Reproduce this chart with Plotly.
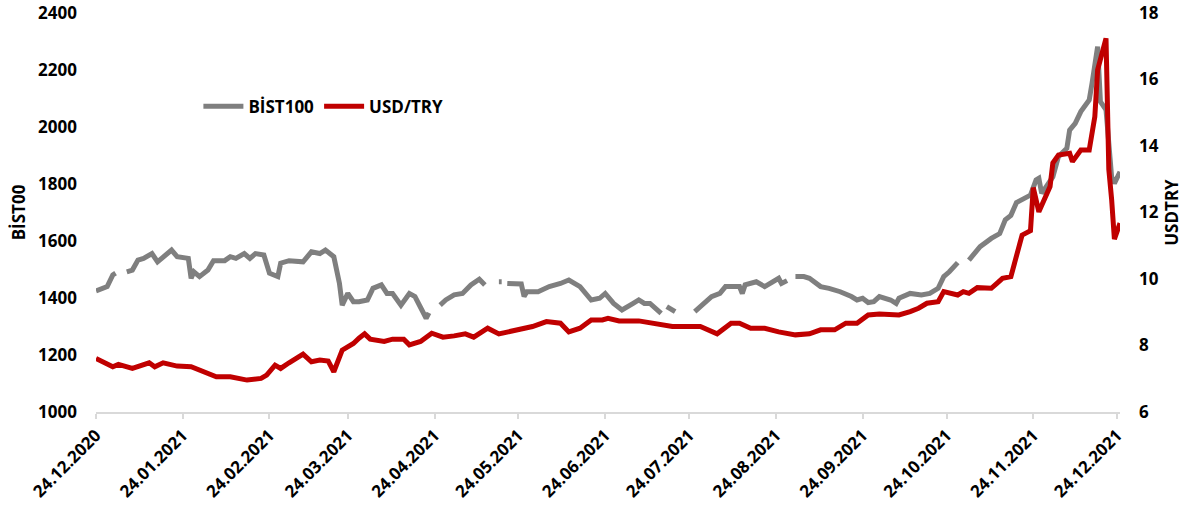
import plotly.graph_objects as go

bist_dates = ["2020-12-24","2020-12-28","2020-12-30","2020-12-31","2021-01-01","2021-01-04","2021-01-06","2021-01-08","2021-01-10","2021-01-13",
"2021-01-15","2021-01-20","2021-01-22","2021-01-26","2021-01-27","2021-01-28","2021-01-30","2021-02-02","2021-02-04","2021-02-08",
"2021-02-10","2021-02-12","2021-02-15","2021-02-17","2021-02-19","2021-02-22","2021-02-24","2021-02-27","2021-02-28","2021-03-03",
"2021-03-08","2021-03-11","2021-03-14","2021-03-16","2021-03-19","2021-03-21","2021-03-22","2021-03-24","2021-03-26","2021-03-28",
"2021-03-31","2021-04-02","2021-04-05","2021-04-07","2021-04-09","2021-04-12","2021-04-15","2021-04-17","2021-04-19","2021-04-21",
"2021-04-22","2021-04-23","2021-04-26","2021-04-28","2021-05-01","2021-05-04","2021-05-07","2021-05-10","2021-05-12","2021-05-13",
"2021-05-17","2021-05-18","2021-05-19","2021-05-20","2021-05-25","2021-05-26","2021-05-27","2021-05-31","2021-06-04","2021-06-08",
"2021-06-11","2021-06-15","2021-06-19","2021-06-22","2021-06-24","2021-06-27","2021-06-30","2021-07-04","2021-07-06","2021-07-08",
"2021-07-10","2021-07-14","2021-07-15","2021-07-16","2021-07-19","2021-07-20","2021-07-26","2021-07-29","2021-08-01","2021-08-04",
"2021-08-06","2021-08-11","2021-08-12","2021-08-13","2021-08-17","2021-08-20","2021-08-23","2021-08-25","2021-08-26","2021-08-28",
"2021-08-30","2021-08-31","2021-09-03","2021-09-05","2021-09-09","2021-09-12","2021-09-16","2021-09-20","2021-09-22","2021-09-24",
"2021-09-26","2021-09-28","2021-09-30","2021-10-04","2021-10-06","2021-10-07","2021-10-11","2021-10-15","2021-10-18","2021-10-21",
"2021-10-23","2021-10-25","2021-10-27","2021-10-28","2021-10-29","2021-11-01","2021-11-03","2021-11-05","2021-11-09","2021-11-12",
"2021-11-14","2021-11-16","2021-11-18","2021-11-20","2021-11-23","2021-11-25","2021-11-26","2021-11-27","2021-12-01","2021-12-03",
"2021-12-06","2021-12-07","2021-12-09","2021-12-11","2021-12-14","2021-12-15","2021-12-17","2021-12-18","2021-12-20","2021-12-22",
"2021-12-23","2021-12-25"]
bist_values = [1425,1440,1481,1487,None,1492,1498,1533,1539,1556,
1527,1568,1545,1539,1469,1492,1475,1498,1531,1531,
1545,1539,1556,1539,1556,1551,1487,1475,1522,1531,
1527,1562,1556,1568,1545,1452,1375,1416,1387,1387,
1393,1434,1446,1416,1416,1375,1416,1405,1364,1329,
1348,None,1375,1393,1411,1416,1446,1466,1446,None,
1457,1457,None,1451,1449,1405,1422,1422,1440,1451,
1463,1440,1393,1399,1416,1381,1358,1381,1393,1381,
1381,1346,None,1370,1352,None,1352,1381,1405,1416,
1440,1440,1416,1446,1457,1440,1457,1469,1451,1461,
None,1475,1475,1469,1440,1434,1422,1405,1393,1399,
1384,1387,1405,1393,1381,1399,1416,1411,1416,1434,
1475,1492,1516,1524,None,1533,1556,1580,1609,1626,
1674,1690,1735,1744,1761,1814,1820,1767,1825,1896,
1925,1989,2013,2054,2095,2153,2282,2089,2060,1826,
1802,1843]

usd_dates = ["2020-12-24","2020-12-30","2021-01-01","2021-01-06","2021-01-12","2021-01-14","2021-01-17","2021-01-22","2021-01-27","2021-01-31",
"2021-02-05","2021-02-10","2021-02-16","2021-02-21","2021-02-23","2021-02-26","2021-02-28","2021-03-03","2021-03-08","2021-03-11",
"2021-03-14","2021-03-17","2021-03-19","2021-03-22","2021-03-26","2021-03-28","2021-03-30","2021-04-01","2021-04-06","2021-04-09",
"2021-04-13","2021-04-15","2021-04-19","2021-04-23","2021-04-27","2021-05-01","2021-05-05","2021-05-08","2021-05-13","2021-05-17",
"2021-05-22","2021-05-27","2021-05-29","2021-06-03","2021-06-08","2021-06-11","2021-06-15","2021-06-19","2021-06-23","2021-06-25",
"2021-06-29","2021-07-06","2021-07-14","2021-07-18","2021-07-28","2021-08-03","2021-08-08","2021-08-11","2021-08-15","2021-08-20",
"2021-08-25","2021-08-31","2021-09-05","2021-09-09","2021-09-14","2021-09-18","2021-09-22","2021-09-26","2021-09-30","2021-10-07",
"2021-10-11","2021-10-14","2021-10-17","2021-10-21","2021-10-23","2021-10-28","2021-10-30","2021-11-01","2021-11-04","2021-11-09",
"2021-11-11","2021-11-13","2021-11-16","2021-11-18","2021-11-20","2021-11-23","2021-11-24","2021-11-26","2021-11-30","2021-12-01",
"2021-12-03","2021-12-07","2021-12-08","2021-12-11","2021-12-14","2021-12-16","2021-12-17","2021-12-20","2021-12-21","2021-12-22",
"2021-12-23","2021-12-25"]
usd_values = [7.61,7.36,7.43,7.31,7.48,7.36,7.48,7.38,7.36,7.21,
7.06,7.06,6.96,7.01,7.11,7.41,7.31,7.48,7.74,7.51,
7.56,7.53,7.21,7.86,8.06,8.22,8.35,8.19,8.12,8.19,
8.19,8.02,8.12,8.37,8.25,8.29,8.35,8.25,8.52,8.35,
8.44,8.52,8.57,8.72,8.67,8.41,8.52,8.77,8.77,8.82,
8.74,8.74,8.62,8.57,8.57,8.35,8.67,8.67,8.52,8.52,
8.41,8.32,8.35,8.47,8.47,8.67,8.67,8.92,8.95,8.92,
9.02,9.12,9.27,9.32,9.62,9.52,9.62,9.57,9.74,9.72,
9.87,10.02,10.07,10.72,11.32,11.45,12.75,12.02,12.78,13.49,
13.73,13.78,13.53,13.88,13.88,14.88,16.29,17.24,13.3,12.4,
11.2,11.68]

tick_dates = ["2020-12-24","2021-01-24","2021-02-24","2021-03-24","2021-04-24","2021-05-24",
              "2021-06-24","2021-07-24","2021-08-24","2021-09-24","2021-10-24","2021-11-24","2021-12-24"]
tick_labels = [d[8:10] + "." + d[5:7] + "." + d[0:4] for d in tick_dates]

FONT = "Open Sans"
BOLD = dict(family=FONT, size=17, weight="bold", color="#000000")

fig = go.Figure()
fig.add_trace(go.Scatter(x=bist_dates, y=bist_values, name="BİST100", mode="lines",
                         line=dict(color="#7F7F7F", width=5), connectgaps=False, yaxis="y"))
fig.add_trace(go.Scatter(x=usd_dates, y=usd_values, name="USD/TRY", mode="lines",
                         line=dict(color="#C00000", width=5), yaxis="y2"))

fig.update_layout(
    width=1189, height=511,
    margin=dict(l=96, r=69, t=13, b=99, autoexpand=False),
    plot_bgcolor="white", paper_bgcolor="white",
    font=dict(family=FONT, size=17, color="#000000"),
    showlegend=True,
    legend=dict(orientation="h", x=0.1, y=0.765, xanchor="left", yanchor="middle",
                font=dict(family=FONT, size=17, weight="bold", color="#000000"),
                bgcolor="rgba(0,0,0,0)", itemwidth=40),
    xaxis=dict(type="date", range=["2020-12-24", "2021-12-25"], automargin=False,
               tickvals=tick_dates, ticktext=tick_labels, tickangle=-45,
               showgrid=False, zeroline=False, showline=True, linecolor="#D9D9D9", linewidth=1.5,
               ticks="outside", ticklen=5, tickcolor="#D9D9D9", tickwidth=1.5,
               tickfont=BOLD),
    yaxis=dict(range=[1000, 2400], dtick=200, showgrid=False, zeroline=False, showline=False,
               automargin=False, ticklabelstandoff=18, tickfont=BOLD, ticklabeloverflow="allow",
               title=dict(text="BİST00", font=BOLD, standoff=8)),
    yaxis2=dict(range=[6, 18], dtick=2, overlaying="y", side="right", showgrid=False,
                zeroline=False, showline=False, automargin=False, ticklabelstandoff=18,
                tickfont=BOLD, ticklabeloverflow="allow",
                title=dict(text="USDTRY", font=BOLD, standoff=8)),
)

fig.write_html("out.html", config={"displayModeBar": False},
               post_script="document.body.style.margin='0';document.body.style.overflow='hidden';")
